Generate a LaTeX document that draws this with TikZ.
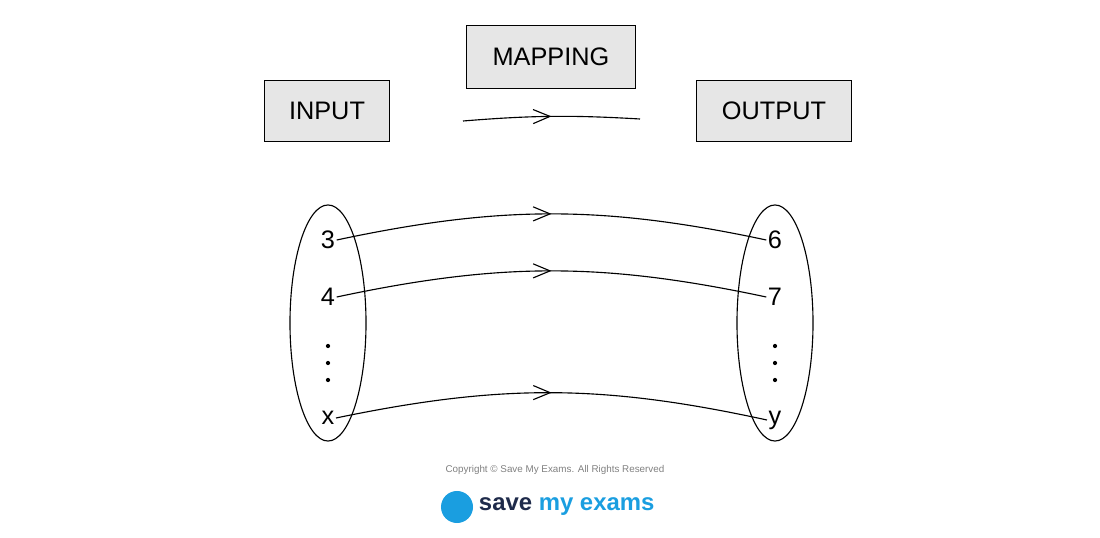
\documentclass[tikz,border=0pt]{standalone}
\usepackage{fontspec}
\setmainfont{Liberation Sans}
\usetikzlibrary{arrows.meta,decorations.markings,shapes.geometric}
\definecolor{boxgray}{HTML}{E6E6E6}
\definecolor{smeblue}{HTML}{1A9EE0}
\definecolor{smenavy}{HTML}{1E2A4A}
\begin{document}
\begin{tikzpicture}[
  x=0.025cm, y=-0.025cm,
  label/.style={rectangle, draw, fill=boxgray, font=\fontsize{18}{20}\selectfont, inner sep=0pt},
  elem/.style={font=\fontsize{18}{20}\selectfont, inner sep=1pt},
  dotnode/.style={circle, fill, inner sep=0pt, minimum size=3pt},
  maparrow/.style={thick, postaction={decorate}, decoration={markings,
    mark=at position 0.5 with {\arrow{Straight Barb[length=12pt,width=10pt]}}}}
]
\useasboundingbox (0,0) rectangle (1100,538);
% headings
\node[label, minimum width=3.12cm, minimum height=1.52cm] (input) at (327,111) {INPUT};
\node[label, minimum width=4.22cm, minimum height=1.57cm] (mapping) at (551,57) {MAPPING};
\node[label, minimum width=3.87cm, minimum height=1.52cm] (output) at (774,111) {OUTPUT};
\coordinate (mapstart) at (463,121);
\coordinate (mapend) at (640,119);
\draw[maparrow] (mapstart) to[bend left=4] (mapend);
% sets
\node[draw, thick, ellipse, minimum width=1.9cm, minimum height=5.9cm] (domain) at (328,323) {};
\node[draw, thick, ellipse, minimum width=1.9cm, minimum height=5.9cm] (range) at (775,323) {};
\node[elem] (n3) at (328,240) {3};
\node[elem] (n4) at (328,297) {4};
\node[elem] (nx) at (328,418) {x};
\node[elem] (n6) at (775,240) {6};
\node[elem] (n7) at (775,297) {7};
\node[elem] (ny) at (775,420) {y};
\foreach \y [count=\i] in {346,363,380} {
  \node[dotnode] (ldot\i) at (328,\y) {};
  \node[dotnode] (rdot\i) at (775,\y) {};
}
% arrows
\draw[maparrow] (n3.east) to[bend left=12] (n6.west);
\draw[maparrow] (n4.east) to[bend left=12] (n7.west);
\draw[maparrow] (nx.east) to[bend left=12] (ny.west);
% footer
\node[text=gray, font=\fontsize{7}{8}\selectfont] (copyright) at (555,470) {Copyright © Save My Exams. All Rights Reserved};
\node[font=\bfseries\fontsize{17}{20}\selectfont, anchor=west] (logo) at (474,507) {\textcolor{smenavy}{save} \textcolor{smeblue}{my exams}};
\node[circle, fill=smeblue, minimum size=0.8cm] (logoicon) at (457,507) {};
\end{tikzpicture}
\end{document}
